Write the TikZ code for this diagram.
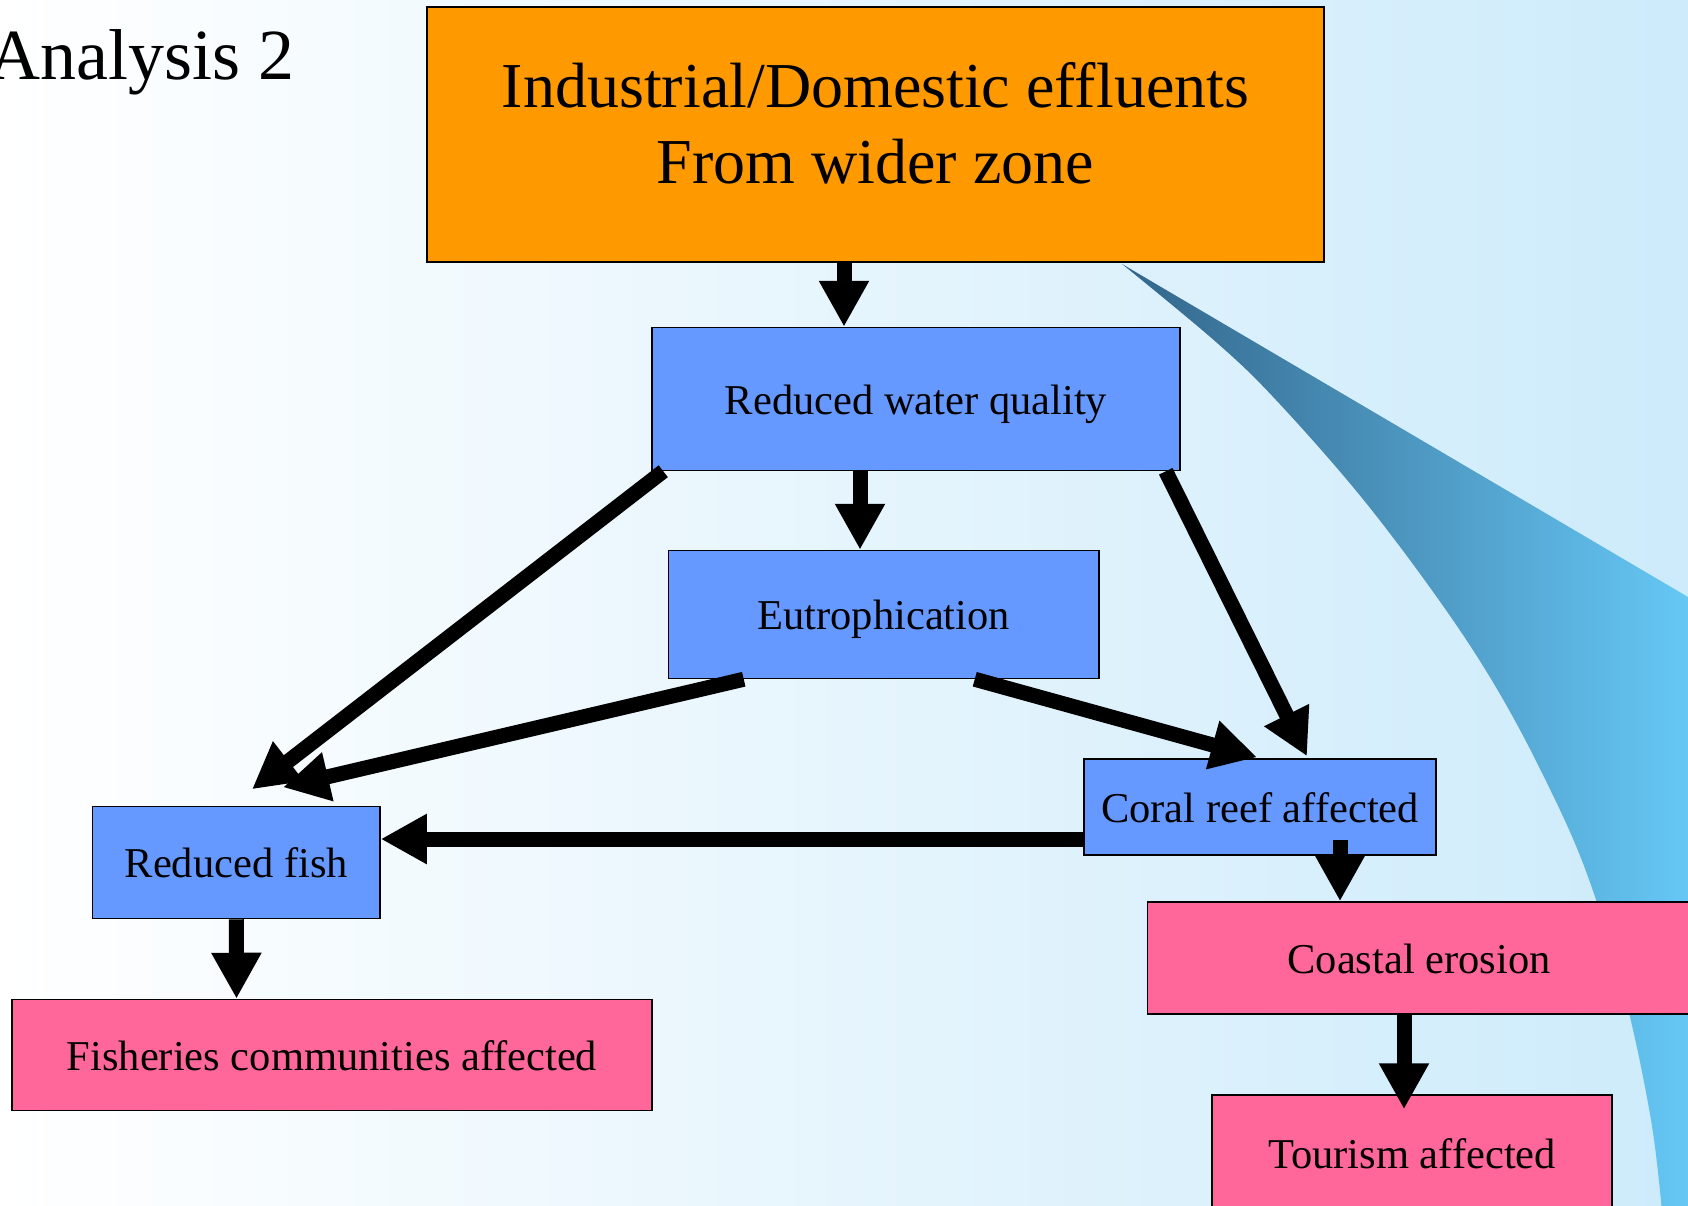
\documentclass[tikz,border=0pt]{standalone}
\usepackage{fontspec}
\setmainfont{Liberation Serif}
\usetikzlibrary{arrows.meta}
\definecolor{boxblue}{HTML}{6699FF}
\definecolor{boxpink}{HTML}{FF6699}
\definecolor{boxorange}{HTML}{FF9900}
\definecolor{bgright}{HTML}{CDEBFB}
\definecolor{swdark}{HTML}{33658A}
\definecolor{swlight}{HTML}{66C8F6}
\begin{document}
\begin{tikzpicture}[x=1pt,y=-1pt,
  box/.style={draw=black,line width=1.5pt,inner sep=0pt,text height=30pt,text depth=0pt,
    font=\fontsize{42.5}{51}\selectfont},
  bluebox/.style={box,fill=boxblue},
  pinkbox/.style={box,fill=boxpink},
  arr/.style={line width=15pt,-{Triangle[length=46pt,width=47pt]}}]
\useasboundingbox (0,0) rectangle (1688,1205);
\clip (0,0) rectangle (1688,1205);
% background
\shade[left color=white,right color=bgright] (0,0) rectangle (1688,1205);
% swoosh
\shade[left color=swdark,right color=swlight]
  (1122,264) -- (1688,597) -- (1692,1212) -- (1662,1212)
  -- plot[smooth,tension=0.6] coordinates {(1662,1212) (1651,1120) (1625,997) (1587,874) (1546,781) (1497,689) (1441,603) (1362,498) (1276,400) (1216,342) (1122,264)}
  -- cycle;
% title
\node[anchor=base east,inner sep=0pt,font=\fontsize{72}{86}\selectfont] (title) at (295,79) {Analysis 2};
% boxes
\node[draw=black,line width=1.5pt,fill=boxorange,inner sep=0pt,align=center,
  minimum width=897pt,minimum height=255pt,text depth=24pt,
  font=\fontsize{64}{76}\selectfont] (src) at (875.5,134.5)
  {Industrial/Domestic effluents\\From wider zone};
\node[bluebox,minimum width=528pt,minimum height=143pt] (rwq) at (916,399) {Reduced water quality};
\node[bluebox,minimum width=430.5pt,minimum height=128pt] (eut) at (883.75,614.5) {Eutrophication};
\node[bluebox,minimum width=352pt,minimum height=96pt] (coral) at (1260,807) {Coral reef affected};
\node[bluebox,minimum width=287.4pt,minimum height=112pt] (fish) at (236.3,862.5) {Reduced fish};
\node[pinkbox,minimum width=640pt,minimum height=111pt] (fisheries) at (332,1055) {Fisheries communities affected};
\node[pinkbox,minimum width=543pt,minimum height=112pt] (coastal) at (1419,958) {Coastal erosion};
\node[pinkbox,minimum width=400pt,minimum height=116pt] (tourism) at (1412,1153) {Tourism affected};
% connectors
\draw[arr] ([xshift=-31.5pt]src.south) -- ([xshift=-72pt]rwq.north);
\draw[arr] ([xshift=-56pt]rwq.south) -- ([xshift=-23.75pt]eut.north);
\draw[arr] ([xshift=12pt]rwq.south west) -- ([xshift=15.7pt,yshift=16.5pt]fish.north);
\draw[arr] ([xshift=76pt]eut.south west) -- ([xshift=46.7pt,yshift=18.5pt]fish.north);
\draw[arr] ([xshift=-15pt]rwq.south east) -- ([xshift=47pt,yshift=2pt]coral.north);
\draw[arr] ([xshift=91pt]eut.south) -- ([xshift=-3pt,yshift=1pt]coral.north);
\draw[arr] ([yshift=-32pt]coral.west) -- ([yshift=23.5pt]fish.east);
\draw[arr] ([xshift=80pt,yshift=16pt]coral.south) -- ([xshift=-79pt]coastal.north);
\draw[arr] (fish.south) -- ([xshift=-95.5pt]fisheries.north);
\draw[arr] ([xshift=-15pt]coastal.south) -- ([xshift=-8pt,yshift=-15pt]tourism.north);
\end{tikzpicture}
\end{document}
